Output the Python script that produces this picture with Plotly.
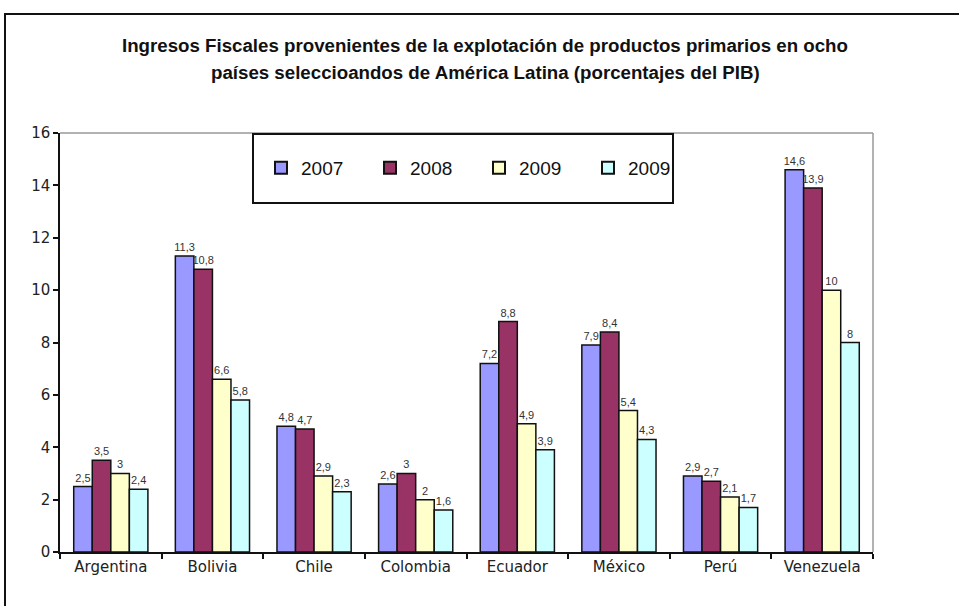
import plotly.graph_objects as go

categories = ["Argentina", "Bolivia", "Chile", "Colombia", "Ecuador", "México", "Perú", "Venezuela"]
series_names = ["2007", "2008", "2009", "2009"]
v2007 = [2.5, 11.3, 4.8, 2.6, 7.2, 7.9, 2.9, 14.6]
v2008 = [3.5, 10.8, 4.7, 3.0, 8.8, 8.4, 2.7, 13.9]
v2009a = [3.0, 6.6, 2.9, 2.0, 4.9, 5.4, 2.1, 10.0]
v2009b = [2.4, 5.8, 2.3, 1.6, 3.9, 4.3, 1.7, 8.0]
colors = ["#9999FF", "#993366", "#FFFFCC", "#CCFFFF"]
title_lines = ["Ingresos Fiscales provenientes de la explotación de productos primarios en ocho",
               "países seleccioandos de América Latina (porcentajes del PIB)"]

W, H = 959, 606
L, R, T, B = 60, 86, 133, 54
pw, ph = W - L - R, H - T - B

def px_x(p):
    return (p - L) / pw

def px_y(p):
    return (H - B - p) / ph

def fmt(v):
    return f"{v:g}".replace(".", ",")

fig = go.Figure()
for name, vals, col in zip(series_names, [v2007, v2008, v2009a, v2009b], colors):
    fig.add_trace(go.Bar(
        x=categories, y=vals, name=name,
        marker=dict(color=col, line=dict(color="#111111", width=1.5)),
        text=[fmt(v) for v in vals], textposition="outside",
        textfont=dict(family="Liberation Sans", size=11, color="#333333"),
        constraintext="none", cliponaxis=False,
    ))

annotations = []
for i, line in enumerate(title_lines):
    annotations.append(dict(
        text=line, xref="paper", yref="paper", x=px_x(485), y=px_y(45 + 28 * i),
        xanchor="center", yanchor="middle", showarrow=False,
        font=dict(family="Liberation Sans", size=18.7, color="#111111", weight="bold"),
    ))

fig.update_layout(
    width=W, height=H,
    margin=dict(l=L, r=R, t=T, b=B),
    paper_bgcolor="white", plot_bgcolor="white",
    barmode="group", bargap=0.27, bargroupgap=0,
    showlegend=True,
    legend=dict(orientation="h", x=px_x(261), y=px_y(168), xanchor="left", yanchor="middle",
                bgcolor="rgba(0,0,0,0)", borderwidth=0,
                font=dict(family="Liberation Sans", size=19, color="#111111"),
                entrywidth=64, entrywidthmode="pixels", itemsizing="constant"),
    xaxis=dict(showline=True, linecolor="#111111", linewidth=1.5, ticks="outside",
               tickson="boundaries", ticklen=5, tickcolor="#111111", tickwidth=1.5,
               tickfont=dict(family="DejaVu Sans", size=15, color="#222222"),
               showgrid=False, fixedrange=True),
    yaxis=dict(range=[0, 16], dtick=2, showline=True, linecolor="#111111", linewidth=1.5,
               ticks="outside", ticklen=5, tickcolor="#111111", tickwidth=1.5,
               tickfont=dict(family="DejaVu Sans", size=15, color="#222222"),
               showgrid=False, zeroline=False, fixedrange=True),
    annotations=annotations,
    shapes=[
        dict(type="rect", xref="paper", yref="paper", x0=px_x(5), x1=px_x(975), y0=px_y(625), y1=px_y(14),
             line=dict(color="#111111", width=2), fillcolor="rgba(0,0,0,0)", layer="below"),
        dict(type="line", xref="paper", yref="paper", x0=0, x1=1, y0=1, y1=1,
             line=dict(color="#999999", width=1.5)),
        dict(type="line", xref="paper", yref="paper", x0=1, x1=1, y0=0, y1=1,
             line=dict(color="#999999", width=1.5)),
        dict(type="rect", xref="paper", yref="paper", x0=px_x(253), x1=px_x(673), y0=px_y(203), y1=px_y(134),
             line=dict(color="#111111", width=2), fillcolor="white", layer="above"),
    ],
)

fig.write_html("out.html", config={"displayModeBar": False},
               post_script="document.body.style.margin='0px';")
